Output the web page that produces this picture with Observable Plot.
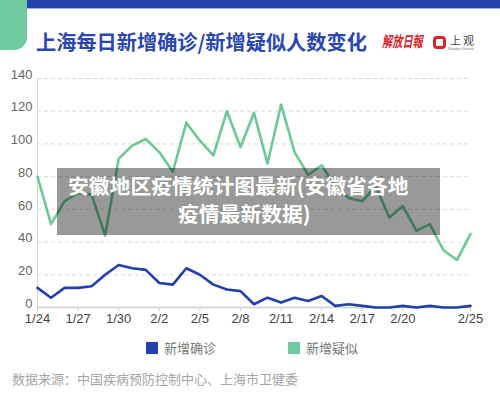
<!DOCTYPE html>
<html><head><meta charset="utf-8">
<script src="https://cdn.jsdelivr.net/npm/d3@7"></script>
<script src="https://cdn.jsdelivr.net/npm/@observablehq/plot@0.6"></script>
<style>
body{margin:0;background:#fff;}
#wrap{position:relative;width:500px;height:403px;overflow:hidden;background:#fff;font-family:"Liberation Sans","Noto Sans CJK SC",sans-serif;}
.band{position:absolute;left:0;top:0;width:500px;height:8px;background:#2442ab;}
.bandline{position:absolute;left:0;top:8px;width:500px;height:1px;background:#9fb0e0;}
.corner{position:absolute;left:0;top:0;width:27px;height:50px;background:#6fcb9f;border-bottom-right-radius:13px;}
.title{position:absolute;left:36px;top:29px;font-size:20.2px;font-weight:bold;color:#2a47b1;font-family:"Noto Sans CJK SC",sans-serif;white-space:nowrap;line-height:26px;}
.logo1{position:absolute;left:382px;top:32px;font-size:15px;color:#d9262c;font-style:italic;font-weight:bold;font-family:"Noto Sans CJK TC",serif;line-height:18px;transform:scaleX(0.68);transform-origin:left center;white-space:nowrap;}
.ring{position:absolute;left:433px;top:36px;width:7px;height:7px;border:3px solid #d9262c;border-radius:4px;}
.logo2{position:absolute;left:450px;top:34px;font-size:11px;color:#444;font-family:"Noto Sans CJK SC",sans-serif;line-height:12px;letter-spacing:2px;}
.logo2s{position:absolute;left:448px;top:47px;font-size:3px;color:#777;white-space:nowrap;line-height:4px;}
#chart{position:absolute;left:0;top:65px;}
.legend{position:absolute;top:340px;font-size:13px;color:#777;font-family:"Noto Sans CJK SC",sans-serif;line-height:16px;}
.sw{display:inline-block;width:12px;height:12px;vertical-align:-1px;margin-right:6px;}
.source{position:absolute;left:12px;top:370px;font-size:13px;color:#a5a5a5;font-family:"Noto Sans CJK SC",sans-serif;white-space:nowrap;line-height:18px;}
.overlay{position:absolute;left:57px;top:168px;width:383px;height:67px;background:rgba(0,0,0,0.4);}
.ot{position:absolute;color:#fff;font-weight:bold;font-size:20.8px;font-family:"Noto Sans CJK SC",sans-serif;white-space:nowrap;line-height:24px;}
</style></head><body>
<div id="wrap">
  <div class="band"></div>
  <div class="bandline"></div>
  <div class="corner"></div>
  <div class="title">上海每日新增确诊/新增疑似人数变化</div>
  <div class="logo1">解放日報</div>
  <div class="ring"></div>
  <div class="logo2">上观</div>
  <div class="logo2s">Shanghai Observer</div>
  <div id="chart"></div>
  <div class="legend" style="left:146px;"><span class="sw" style="background:#2140ab"></span>新增确诊</div>
  <div class="legend" style="left:288px;"><span class="sw" style="background:#6fcb9f"></span>新增疑似</div>
  <div class="source">数据来源：中国疾病预防控制中心、上海市卫健委</div>
  <div class="overlay"></div>
  <div class="ot" style="left:68px;top:173px;">安徽地区疫情统计图最新(安徽省各地</div>
  <div class="ot" style="left:178px;top:201px;">疫情最新数据)</div>
</div>
<script>
const dates = ["1/24","1/25","1/26","1/27","1/28","1/29","1/30","1/31","2/1","2/2","2/3","2/4","2/5","2/6","2/7","2/8","2/9","2/10","2/11","2/12","2/13","2/14","2/15","2/16","2/17","2/18","2/19","2/20","2/21","2/22","2/23","2/24","2/25"];
const confirmed = [12,6,12,12,13,20,26,24,23,15,14,24,20,14,11,10,2,6,3,6,4,7,1,2,1,0,0,1,0,1,0,0,1];
const suspected = [80,51,65,70,69,44,91,99,103,95,83,113,102,93,120,98,119,88,124,95,81,87,74,67,65,74,55,62,47,51,35,29,45];
const xTickLabels = ["1/24","1/27","1/30","2/2","2/5","2/8","2/11","2/14","2/17","2/20","2/25"];
const yTicks = [0,20,40,60,80,100,120,140];

const parse = s => { const [m, d] = s.split("/").map(Number); return new Date(Date.UTC(2020, m - 1, d)); };
const rows = dates.map((s, i) => ({date: parse(s), confirmed: confirmed[i], suspected: suspected[i]}));
const xTicks = xTickLabels.map(parse);
const fmt = d => `${d.getUTCMonth() + 1}/${d.getUTCDate()}`;

const chart = Plot.plot({
  width: 500,
  height: 270,
  marginLeft: 37,
  marginRight: 30,
  marginTop: 13,
  marginBottom: 28,
  style: {fontFamily: '"Liberation Sans","Noto Sans CJK SC",sans-serif', fontSize: "13px", color: "#555", background: "transparent"},
  x: {type: "utc", domain: [rows[0].date, rows[rows.length - 1].date]},
  y: {domain: [0, 140]},
  marks: [
    Plot.gridY(yTicks, {stroke: "#d8d8d8", strokeOpacity: 1, strokeDasharray: "4,3"}),
    Plot.ruleX([rows[0].date], {stroke: "#d6d6d6"}),
    Plot.ruleY([0], {stroke: "#cfcfcf", strokeWidth: 1.5}),
    Plot.axisY(yTicks, {tickSize: 0, tickPadding: 5, label: null, dy: -4, fill: "#666"}),
    Plot.axisX(xTicks, {tickSize: 4, tickPadding: 2, tickFormat: fmt, label: null, stroke: "#cfcfcf", fill: "#444"}),
    Plot.lineY(rows, {x: "date", y: "suspected", stroke: "#6cc896", strokeWidth: 2.6}),
    Plot.lineY(rows, {x: "date", y: "confirmed", stroke: "#2140ab", strokeWidth: 2.6})
  ]
});
document.getElementById("chart").appendChild(chart);
</script>
</body></html>
